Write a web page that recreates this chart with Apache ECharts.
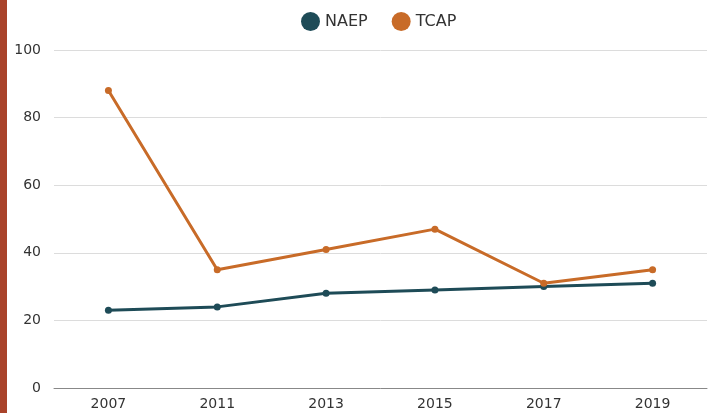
<!DOCTYPE html>
<html>
<head>
<meta charset="utf-8">
<script src="https://cdn.jsdelivr.net/npm/echarts@6/dist/echarts.min.js"></script>
<style>
  html, body { margin: 0; padding: 0; background: #fff; }
  #chart { width: 715px; height: 413px; }
</style>
</head>
<body>
<div id="chart"></div>
<script>
// 数据
var years = ['2007', '2011', '2013', '2015', '2017', '2019'];
var naep = [23, 24, 28, 29, 30, 31];
var tcap = [88, 35, 41, 47, 31, 35];
var yTicks = [0, 20, 40, 60, 80, 100];

var chart = echarts.init(document.getElementById('chart'));

var option = {
  textStyle: { fontFamily: '"DejaVu Sans", sans-serif' },
  // 左侧色条
  graphic: [{
    type: 'rect',
    left: 0, top: 0,
    shape: { width: 7, height: 413 },
    style: { fill: '#a9432a' }
  }],
  legend: {
    top: 7,
    left: 296,
    icon: 'circle',
    itemWidth: 19,
    itemHeight: 19,
    itemGap: 24,
    textStyle: { fontSize: 16, color: '#333', fontFamily: '"DejaVu Sans", sans-serif' },
    data: ['NAEP', 'TCAP']
  },
  grid: { left: 54, right: 8, top: 50, bottom: 25, containLabel: false },
  xAxis: {
    type: 'category',
    data: years,
    axisTick: { show: false },
    axisLine: { lineStyle: { color: '#888', width: 1 } },
    axisLabel: { color: '#333', fontSize: 14, margin: 9 }
  },
  yAxis: {
    type: 'value',
    min: yTicks[0],
    max: yTicks[yTicks.length - 1],
    interval: 20,
    axisLabel: { color: '#333', fontSize: 14, margin: 13 },
    splitLine: { lineStyle: { color: '#dcdcdc' } }
  },
  series: [{
    name: 'NAEP',
    type: 'line',
    data: naep,
    symbol: 'circle',
    symbolSize: 7,
    color: '#1e4b57',
    lineStyle: { width: 3 }
  }, {
    name: 'TCAP',
    type: 'line',
    data: tcap,
    symbol: 'circle',
    symbolSize: 7,
    color: '#c86b28',
    lineStyle: { width: 3 }
  }]
};

chart.setOption(option);
</script>
</body>
</html>
